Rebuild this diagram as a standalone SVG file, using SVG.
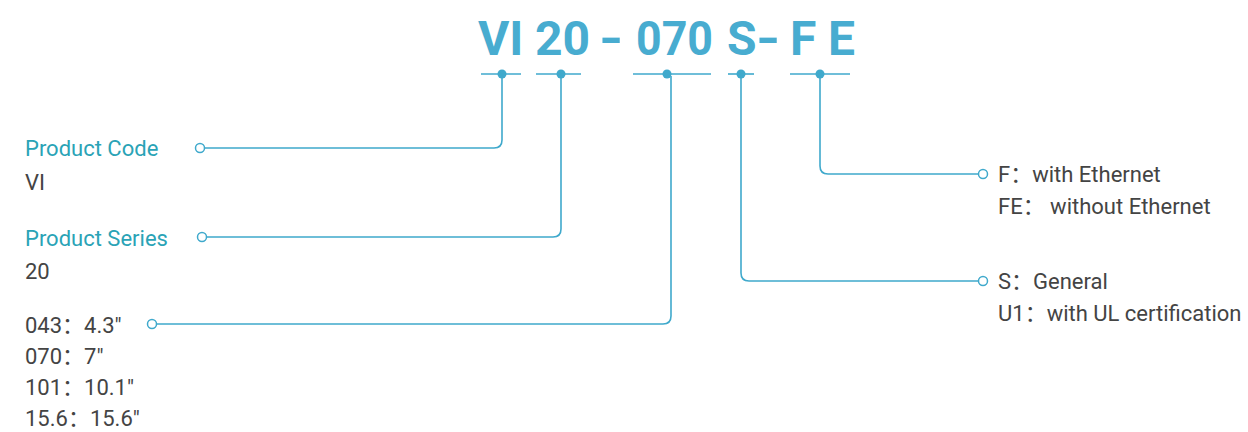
<svg xmlns="http://www.w3.org/2000/svg" width="1248" height="432" viewBox="0 0 1248 432">
<style>
.title{font-family:Roboto,"Liberation Sans",sans-serif;font-weight:bold;font-size:48px;fill:#48acd0}
.lbl{font-family:Roboto,"Noto Sans CJK SC",sans-serif;font-size:22px;fill:#2aa3b6}
.val{font-family:Roboto,"Noto Sans CJK SC",sans-serif;font-size:22px;fill:#444}
.tick{stroke:#3fa9cc;stroke-width:1.6;fill:none}
.ln{stroke:#3fa9cc;stroke-width:1.6;fill:none}
.dot{fill:#3fa9cc}
.ring{fill:#fff;stroke:#3fa9cc;stroke-width:1.5}
</style>
<g id="title">
<text class="title" x="478" y="55">VI</text>
<text class="title" x="535" y="55">20</text>
<text class="title" transform="translate(599,55) scale(1.3,1)" x="0" y="0">-</text>
<text class="title" x="636" y="55" textLength="77" lengthAdjust="spacingAndGlyphs">070</text>
<text class="title" x="727" y="55">S</text>
<text class="title" transform="translate(756,55) scale(1.3,1)" x="0" y="0">-</text>
<text class="title" x="790" y="55">F</text>
<text class="title" x="828" y="55">E</text>
</g>
<g id="connectors">
<line class="tick" x1="481" y1="74" x2="521" y2="74"/>
<line class="tick" x1="536" y1="74" x2="581" y2="74"/>
<line class="tick" x1="633" y1="74" x2="711" y2="74"/>
<line class="tick" x1="728" y1="74" x2="754" y2="74"/>
<line class="tick" x1="790" y1="74" x2="850" y2="74"/>
<path class="ln" d="M502,74 V140 Q502,148 494,148 H204.5"/>
<path class="ln" d="M561,74 V229 Q561,237 553,237 H206.5"/>
<path class="ln" d="M671,76 V316 Q671,324 663,324 H156.5"/>
<path class="ln" d="M741,74 V273 Q741,281 749,281 H978.5"/>
<path class="ln" d="M820,74 V166 Q820,174 828,174 H978.5"/>
<circle class="dot" cx="502" cy="74" r="4.5"/>
<circle class="dot" cx="561" cy="74" r="4.5"/>
<circle class="dot" cx="667" cy="74" r="4.5"/>
<circle class="dot" cx="741" cy="74" r="4.5"/>
<circle class="dot" cx="820" cy="74" r="4.5"/>
<circle class="ring" cx="200" cy="148" r="4.5"/>
<circle class="ring" cx="202" cy="237" r="4.5"/>
<circle class="ring" cx="152" cy="324" r="4.5"/>
<circle class="ring" cx="983" cy="281" r="4.5"/>
<circle class="ring" cx="983" cy="174" r="4.5"/>
</g>
<g id="product-code">
<text class="lbl" x="25" y="156">Product Code</text>
<text class="val" x="25" y="190">VI</text>
</g>
<g id="product-series">
<text class="lbl" x="25" y="246">Product Series</text>
<text class="val" x="25" y="279">20</text>
</g>
<g id="size">
<text class="val" x="25" y="333">043：4.3"</text>
<text class="val" x="25" y="364">070：7"</text>
<text class="val" x="25" y="395">101：10.1"</text>
<text class="val" x="25" y="426">15.6：15.6"</text>
</g>
<g id="ethernet">
<text class="val" x="998" y="182">F：with Ethernet</text>
<text class="val" x="998" y="214">FE：  without Ethernet</text>
</g>
<g id="cert">
<text class="val" x="998" y="289">S：General</text>
<text class="val" x="998" y="321">U1：with UL certification</text>
</g>
</svg>
